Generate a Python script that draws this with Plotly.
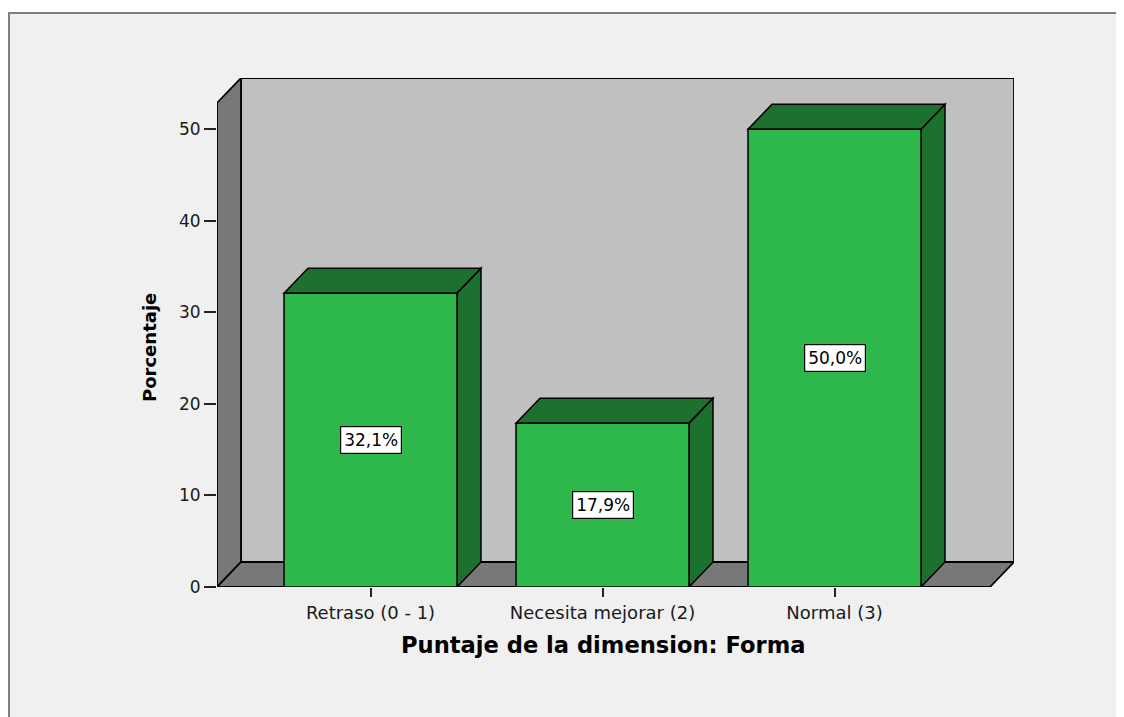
import plotly.graph_objects as go

# ---- data ----
categories = ["Retraso (0 - 1)", "Necesita mejorar (2)", "Normal (3)"]
percentages = [32.1, 17.9, 50.0]
value_labels = ["32,1%", "17,9%", "50,0%"]
y_ticks = [0, 10, 20, 30, 40, 50]
x_title = "Puntaje de la dimension: Forma"
y_title = "Porcentaje"

# ---- layout constants (page pixels; the page body has an 8px margin) ----
OFF = 8
W, H = 1124 - OFF, 717 - OFF
L, R, T, B = 217 - OFF, 1014 - OFF, 78 - OFF, 587 - OFF
unit_px = 232.0                 # pixels per category step
x0 = -(370.5 - 217) / unit_px   # front-left edge of floor in category units
x_max = x0 + (R - L) / unit_px
dx = 24 / unit_px               # depth offset in x (category units)
y_max = 55.6
ypx = (B - T) / y_max
dy = 25 / ypx                   # depth offset in y (data units)
wall_top = y_max - dy
x1 = x_max - dx
bar_w = 173 / unit_px

FRONT = "#2eb74b"
SIDE = "#1d712e"
WALL = "#c0c0c0"
DARK = "#787878"
FONT = "DejaVu Sans, Verdana, sans-serif"


def paper_x(px):
    return (px - OFF - L) / (R - L)


def paper_y(py):
    return (B - (py - OFF)) / (B - T)


def poly(pts):
    return "M " + " L ".join(f"{x},{y}" for x, y in pts) + " Z"


xs = list(range(len(categories)))

fig = go.Figure()

shapes = []
# white strip above the outer frame, then the frame's top and left border
shapes.append(dict(type="rect", xref="paper", yref="paper",
                   x0=paper_x(0), x1=paper_x(1200), y0=paper_y(13), y1=paper_y(0),
                   fillcolor="white", line=dict(width=0), layer="below"))
shapes.append(dict(type="line", xref="paper", yref="paper",
                   x0=paper_x(OFF), x1=paper_x(1200), y0=paper_y(13), y1=paper_y(13),
                   line=dict(color="#7f7f7f", width=2), layer="below"))
shapes.append(dict(type="line", xref="paper", yref="paper",
                   x0=paper_x(OFF + 1), x1=paper_x(OFF + 1), y0=paper_y(13), y1=paper_y(760),
                   line=dict(color="#7f7f7f", width=2), layer="below"))
# back wall
shapes.append(dict(type="path", xref="x", yref="y", layer="below",
                   path=poly([(x0 + dx, dy), (x1 + dx, dy), (x1 + dx, wall_top + dy), (x0 + dx, wall_top + dy)]),
                   fillcolor=WALL, line=dict(color="black", width=1.8)))
# left wall
shapes.append(dict(type="path", xref="x", yref="y", layer="below",
                   path=poly([(x0, 0), (x0 + dx, dy), (x0 + dx, wall_top + dy), (x0, wall_top)]),
                   fillcolor=DARK, line=dict(color="black", width=1.8)))
# floor
shapes.append(dict(type="path", xref="x", yref="y", layer="below",
                   path=poly([(x0, 0), (x1, 0), (x1 + dx, dy), (x0 + dx, dy)]),
                   fillcolor=DARK, line=dict(color="black", width=1.8)))

# bar side / top faces
for i, v in zip(xs, percentages):
    xl, xr = i - bar_w / 2, i + bar_w / 2
    shapes.append(dict(type="path", xref="x", yref="y", layer="below",
                       path=poly([(xr, 0), (xr + dx, dy), (xr + dx, v + dy), (xr, v)]),
                       fillcolor=SIDE, line=dict(color="black", width=1.5)))
    shapes.append(dict(type="path", xref="x", yref="y", layer="below",
                       path=poly([(xl, v), (xr, v), (xr + dx, v + dy), (xl + dx, v + dy)]),
                       fillcolor=SIDE, line=dict(color="black", width=1.5)))

fig.add_trace(go.Bar(x=xs, y=percentages, width=bar_w,
                     marker=dict(color=FRONT, line=dict(color="black", width=1.5)),
                     hoverinfo="skip", showlegend=False))

annotations = []
for i, v, lab in zip(xs, percentages, value_labels):
    annotations.append(dict(x=i, y=v / 2, xref="x", yref="y", text=lab, showarrow=False,
                            xanchor="center", yanchor="middle",
                            font=dict(family=FONT, size=17, color="black"),
                            bgcolor="white", bordercolor="black", borderwidth=1.2, borderpad=3))

annotations.append(dict(x=paper_x(603), y=paper_y(645), xref="paper", yref="paper",
                        xanchor="center", yanchor="middle",
                        text=f"<b>{x_title}</b>", showarrow=False,
                        font=dict(family=FONT, size=22.6, color="black")))
annotations.append(dict(x=paper_x(149), y=paper_y(348), xref="paper", yref="paper",
                        xanchor="center", yanchor="middle",
                        text=f"<b>{y_title}</b>", showarrow=False, textangle=-90,
                        font=dict(family=FONT, size=18, color="black")))

fig.update_layout(
    width=W, height=H,
    margin=dict(l=L, r=W - R, t=T, b=H - B, autoexpand=False),
    paper_bgcolor="#f0f0f0",
    plot_bgcolor="rgba(0,0,0,0)",
    shapes=shapes,
    annotations=annotations,
    showlegend=False,
    xaxis=dict(range=[x0, x_max], tickmode="array", tickvals=xs, ticktext=categories,
               showgrid=False, zeroline=False, showline=False,
               ticks="outside", ticklen=9, tickwidth=2, tickcolor="#222",
               tickfont=dict(family=FONT, size=18, color="#1a1a1a"), fixedrange=True),
    yaxis=dict(range=[0, y_max], tickmode="array", tickvals=y_ticks,
               showgrid=False, zeroline=False, showline=False,
               ticks="outside", ticklen=12, tickwidth=2, tickcolor="#222",
               tickfont=dict(family=FONT, size=17, color="#1a1a1a"), fixedrange=True),
)

fig.write_html("out.html")
